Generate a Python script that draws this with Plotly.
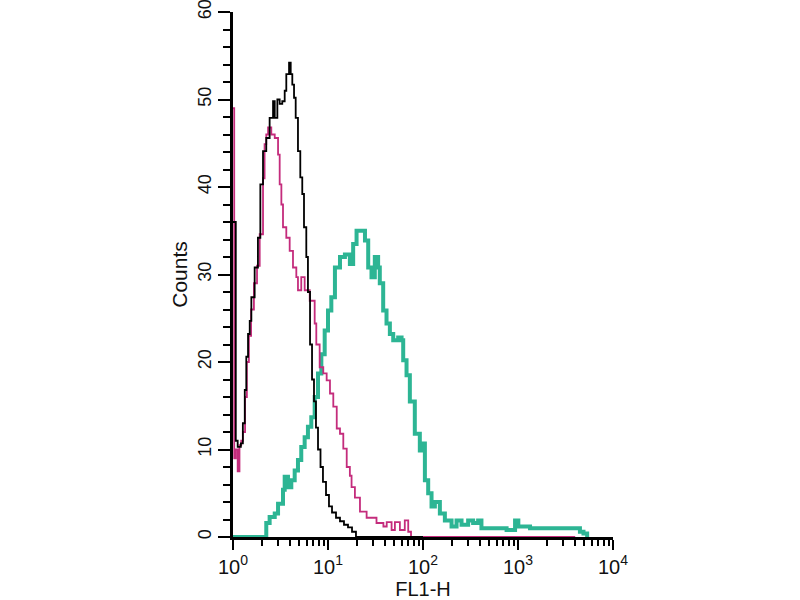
import plotly.graph_objects as go

# FL1-H histogram (x = FL1-H, y = counts)
black_x = [1.00, 1.07, 1.12, 1.21, 1.27, 1.33, 1.38, 1.44, 1.50, 1.56, 1.69, 1.83, 1.94,
           2.07, 2.24, 2.43, 2.64, 2.75, 2.93, 3.10, 3.30, 3.50, 3.64, 3.89, 4.05, 4.21,
           4.39, 4.57, 4.83, 5.11, 5.36, 5.59, 5.91, 6.15, 6.47, 6.79, 7.12, 7.47, 7.85,
           8.34, 8.85, 9.53, 10.24, 11.02, 12.14, 13.37, 14.73, 16.24, 17.9, 19.7, 100]
black_y = [36, 11, 10.3, 10.7, 13, 16.8, 20.6, 23.2, 24.7, 27.4, 30.8, 34.2, 40.3,
           44.1, 45.6, 47.9, 49.8, 47.9, 50, 49.5, 49.8, 51, 52.9, 54.2, 52.9, 51.7,
           50.2, 47.9, 44.1, 41.1, 39.2, 35.4, 32, 28, 22, 18, 15.5, 12.5, 10,
           8, 6.3, 4.8, 3.5, 2.8, 2.2, 1.8, 1.4, 1.1, 0.6, 0, 0]

pink_x = [1.00, 1.03, 1.07, 1.12, 1.17, 1.22, 1.27, 1.34, 1.40, 1.47, 1.55, 1.66, 1.79,
          1.91, 2.07, 2.15, 2.24, 2.34, 2.53, 2.75, 2.98, 3.10, 3.23, 3.36, 3.64, 3.95,
          4.28, 4.64, 4.83, 5.23, 5.68, 6.42, 7.24, 7.53, 8.17, 8.92, 9.68, 10.49, 11.37,
          12.36, 13.37, 14.49, 15.74, 16.99, 17.7, 19.2, 21.7, 25.5, 32.4, 38.3, 41.5,
          46.7, 50.6, 57.1, 64.3, 69.9, 74.8, 4000]
pink_y = [49, 9, 10, 7.5, 10.5, 11, 12, 16, 20, 23, 26, 29, 31,
          34.6, 41, 44.9, 46, 46.8, 46, 45.6, 43.7, 40.3, 38, 35.4, 34.2, 32.7,
          30.8, 29.7, 28.2, 29.7, 28.2, 27, 24.4, 22, 19.4, 18.7, 17.9, 16.4, 14.9,
          12.4, 11.8, 10.1, 8.0, 7.0, 5.7, 4.5, 2.9, 2.2, 1.6, 1.2, 1.7,
          0.8, 1.7, 0.8, 1.9, 0.6, 0, 0]

green_x = [1.00, 1.985, 2.24, 2.43, 2.75, 2.98, 3.36, 3.50, 3.79, 4.11, 4.46, 4.83, 5.23,
           5.68, 6.15, 6.67, 7.24, 7.85, 8.51, 9.23, 10.0, 10.84, 11.83, 13.37, 15.07,
           17.0, 18.4, 19.98, 22.6, 24.5, 26.5, 28.7, 31.1, 33.7, 35.1, 38.1, 41.3, 44.8,
           48.6, 54.8, 59.5, 61.9, 67.1, 72.7, 82.0, 92.6, 96.6, 104.7, 113.4, 123.0,
           133.3, 150.5, 169.9, 199.8, 225.5, 254.5, 298.6, 337.1, 380.5, 412.2, 545.6,
           758.4, 931.4, 1008, 1339, 2345, 4130, 4487, 4889, 5344]
green_y = [0, 0, 1.6, 2.3, 2.7, 3.8, 5.4, 6.9, 5.7, 6.5, 7.6, 8.8, 10.3,
           11.4, 12.6, 13.7, 16, 18.7, 20.9, 23.6, 25.9, 27.4, 30.8, 32, 32.3,
           31.2, 33.5, 35, 35, 33.9, 30.8, 29.7, 32, 30.8, 29, 25.9, 24.4, 23.2,
           22.5, 22.8, 22.5, 20.2, 18.5, 15.5, 11.8, 9.9, 10.7, 6.5, 5.0, 3.5,
           4.0, 2.7, 1.9, 1.2, 1.9, 1.4, 1.9, 1.6, 1.9, 1.0, 1.0,
           0.8, 1.9, 1.2, 1.0, 1.0, 1.0, 0.6, 0.4, 0]

x_ticks = [1, 10, 100, 1000, 10000]
x_labels = ['10<sup>0</sup>', '10<sup>1</sup>', '10<sup>2</sup>', '10<sup>3</sup>', '10<sup>4</sup>']
y_ticks = [0, 10, 20, 30, 40, 50, 60]

fig = go.Figure()

fig.add_trace(go.Scatter(x=green_x, y=green_y, mode='lines', line_shape='hv',
                         line=dict(color='#2DB594', width=4)))
fig.add_trace(go.Scatter(x=pink_x, y=pink_y, mode='lines', line_shape='hv',
                         line=dict(color='#C42C7C', width=1.8)))
fig.add_trace(go.Scatter(x=black_x, y=black_y, mode='lines', line_shape='hv',
                         line=dict(color='black', width=1.8)))

minor_x = [m * 10 ** d for d in range(4) for m in range(2, 10)]

fig.update_layout(
    width=800, height=600,
    margin=dict(l=233, r=187, t=12, b=63),
    paper_bgcolor='white', plot_bgcolor='white',
    showlegend=False,
    font=dict(family='Liberation Sans', color='#111111'),
    xaxis=dict(type='log', range=[0, 4], automargin=False,
               tickmode='array', tickvals=x_ticks, ticktext=x_labels,
               ticks='outside', ticklen=10, tickwidth=2, tickcolor='black',
               minor=dict(tickmode='array', tickvals=minor_x, ticks='outside',
                          ticklen=6, tickwidth=2, tickcolor='black'),
               showline=True, linecolor='black', linewidth=2.5,
               showgrid=False, zeroline=False,
               tickfont=dict(size=20),
               title=dict(text='FL1-H', font=dict(size=20), standoff=3)),
    yaxis=dict(range=[0, 60], automargin=False,
               tickmode='array', tickvals=y_ticks,
               tickangle=-90, ticklabeloverflow='allow',
               ticks='outside', ticklen=12, tickwidth=2, tickcolor='black',
               minor=dict(dtick=2, ticks='outside', ticklen=7, tickwidth=2, tickcolor='black'),
               showline=True, linecolor='black', linewidth=3,
               showgrid=False, zeroline=False,
               tickfont=dict(size=18),
               title=dict(text='Counts', font=dict(size=21), standoff=2)),
)

# drop the default 8px page margin so the figure sits at the window's corner
fig.write_html("out.html", config={'displayModeBar': False},
               post_script="document.body.style.margin='0';")
